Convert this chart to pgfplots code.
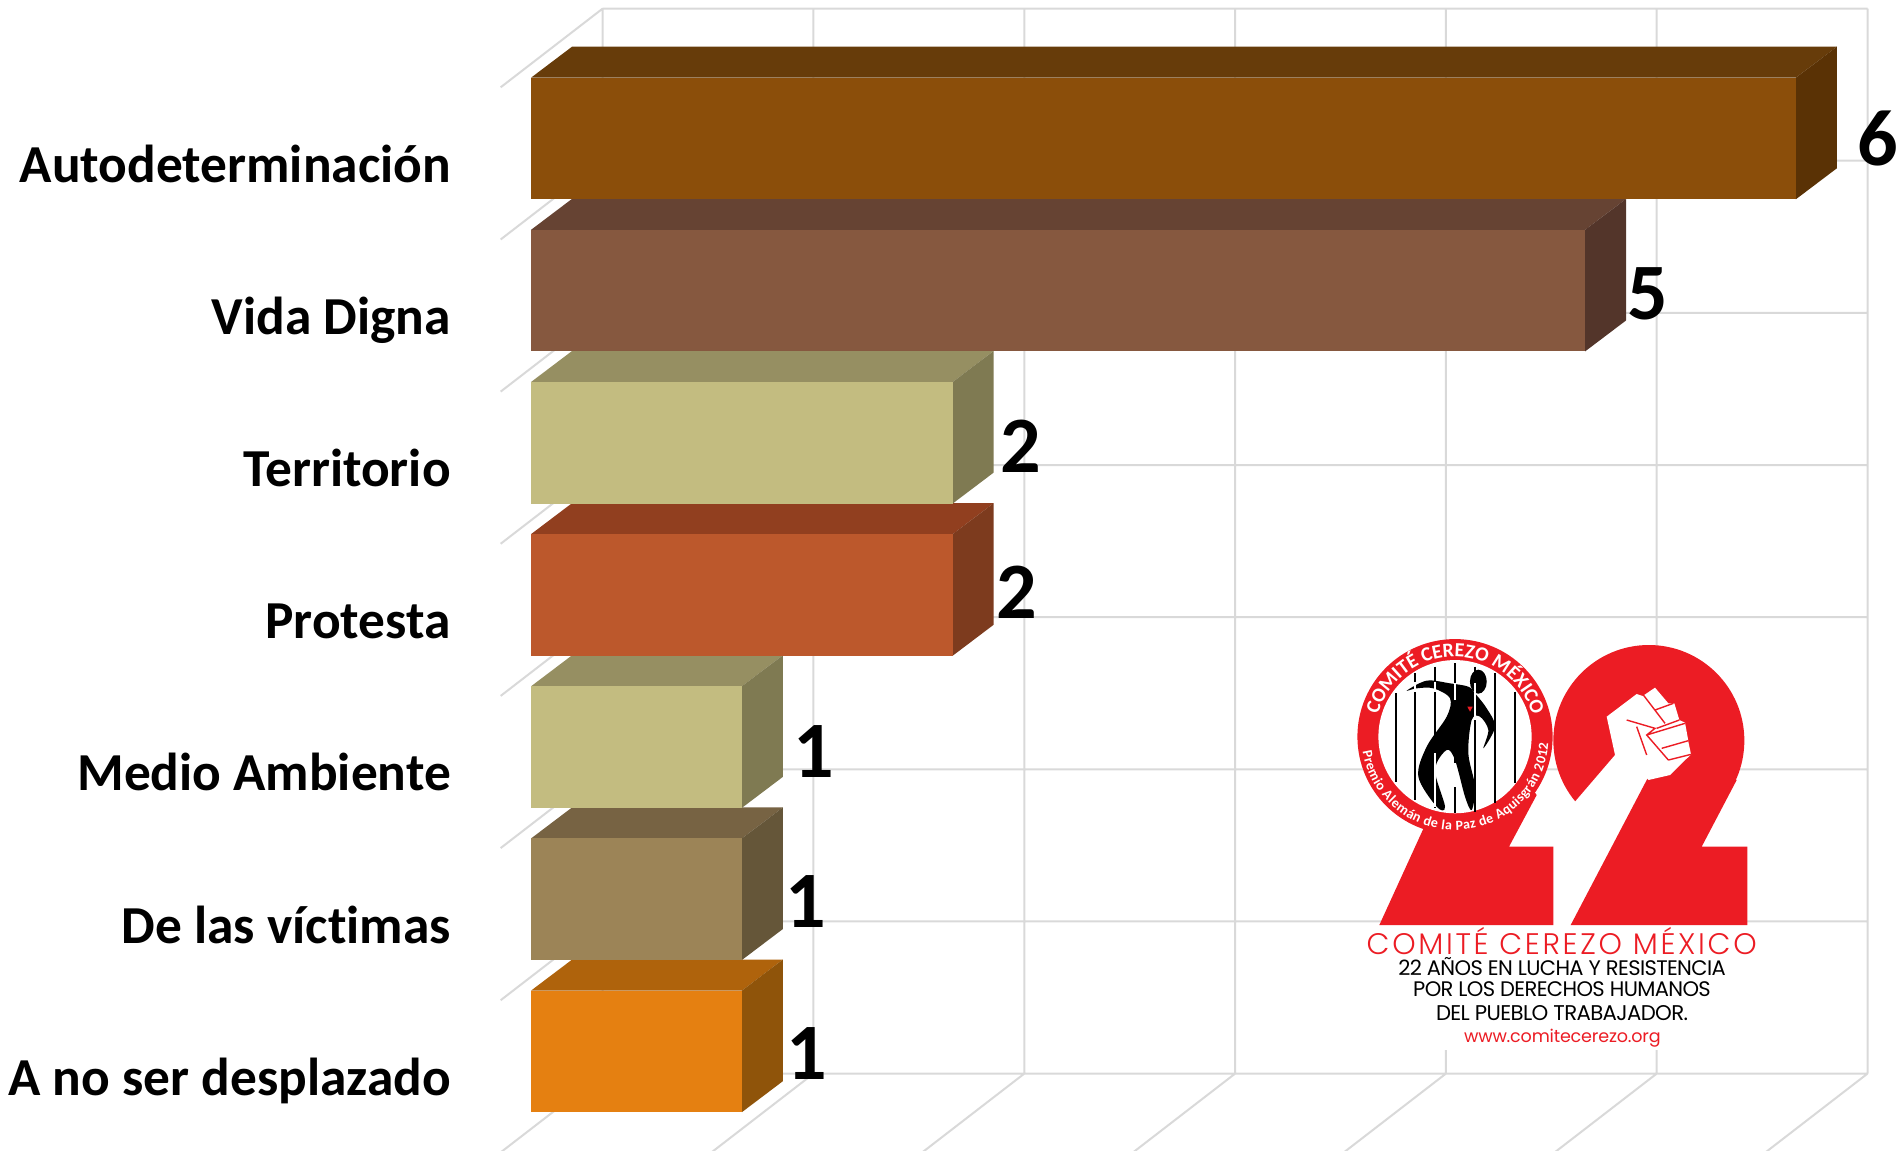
\documentclass[border=0pt]{standalone}
\usepackage{fontspec}
\setmainfont[Ligatures=NoCommon]{Carlito}
\newfontfamily\pop[LetterSpace=-3]{Poppins}
\newfontfamily\popw[LetterSpace=9]{Poppins Light}
\newfontfamily\popu[LetterSpace=-1]{Poppins}
\usepackage{pgfplots}
\pgfplotsset{compat=1.18}
\usetikzlibrary{decorations.text}
\definecolor{gridc}{HTML}{D9D9D9}
\definecolor{logored}{HTML}{EC1C24}
\definecolor{aF}{HTML}{8B4E0A}\definecolor{aT}{HTML}{673C0A}\definecolor{aS}{HTML}{5A3205}
\definecolor{bF}{HTML}{86583F}\definecolor{bT}{HTML}{664333}\definecolor{bS}{HTML}{53352A}
\definecolor{cF}{HTML}{C3BC80}\definecolor{cT}{HTML}{968F62}\definecolor{cS}{HTML}{7F7A52}
\definecolor{dF}{HTML}{BC582C}\definecolor{dT}{HTML}{913F1F}\definecolor{dS}{HTML}{7D3B1E}
\definecolor{eF}{HTML}{9C8457}\definecolor{eT}{HTML}{776343}\definecolor{eS}{HTML}{655639}
\definecolor{fF}{HTML}{E58011}\definecolor{fT}{HTML}{AF630C}\definecolor{fS}{HTML}{8F540A}
\begin{document}
\begin{tikzpicture}
\begin{axis}[
  scale only axis, width=950.5pt, height=575pt,
  xmin=-2.519, xmax=6.499, ymin=-0.9103, ymax=6.648, y dir=reverse,
  axis line style={draw=none}, tick style={draw=none}, major tick length=0pt,
  xtick=\empty, ytick={0,1,2,3,4,5,6},
  yticklabels={Autodeterminación,Vida Digna,Territorio,Protesta,Medio Ambiente,De las víctimas,A no ser desplazado},
  ytick pos=left, tick label style={inner sep=0pt},
  yticklabel style={anchor=base east, xshift=225.6pt, yshift=-21.9pt, font=\fontsize{26.7}{27}\selectfont\bfseries, text=black},
  unbounded coords=jump,
  /pgf/number format/assume math mode=true,
  every node near coord/.append style={font=\fontsize{40}{40}\selectfont\bfseries, text=black, anchor=center, inner sep=0pt},
  nbar/.style={xbar, bar shift=0pt, bar width=60.8pt, draw=none, point meta=x, nodes near coords},
  face/.style={fill=#1, draw=none, mark=none, forget plot},
]
% grid: back wall, side wall, floor
\addplot[gridc, line width=1pt, mark=none, forget plot] coordinates {
 (0.34,-0.854)(6.34,-0.854)(nan,nan)(0.34,0.146)(6.34,0.146)(nan,nan)
 (0.34,1.146)(6.34,1.146)(nan,nan)(0.34,2.146)(6.34,2.146)(nan,nan)
 (0.34,3.146)(6.34,3.146)(nan,nan)(0.34,4.146)(6.34,4.146)(nan,nan)
 (0.34,5.146)(6.34,5.146)(nan,nan)(0.34,6.146)(6.34,6.146)(nan,nan)
 (0.34,-0.854)(0.34,6.146)(nan,nan)(1.34,-0.854)(1.34,6.146)(nan,nan)
 (2.34,-0.854)(2.34,6.146)(nan,nan)(3.34,-0.854)(3.34,6.146)(nan,nan)
 (4.34,-0.854)(4.34,6.146)(nan,nan)(5.34,-0.854)(5.34,6.146)(nan,nan)
 (6.34,-0.854)(6.34,6.146)(nan,nan)
 (0.34,-0.854)(-0.144,-0.3365)(nan,nan)(0.34,0.146)(-0.144,0.6635)(nan,nan)
 (0.34,1.146)(-0.144,1.6635)(nan,nan)(0.34,2.146)(-0.144,2.6635)(nan,nan)
 (0.34,3.146)(-0.144,3.6635)(nan,nan)(0.34,4.146)(-0.144,4.6635)(nan,nan)
 (0.34,5.146)(-0.144,5.6635)(nan,nan)(0.34,6.146)(-0.144,6.6635)(nan,nan)
 (1.34,6.146)(0.856,6.6635)(nan,nan)(2.34,6.146)(1.856,6.6635)(nan,nan)
 (3.34,6.146)(2.856,6.6635)(nan,nan)(4.34,6.146)(3.856,6.6635)(nan,nan)
 (5.34,6.146)(4.856,6.6635)(nan,nan)(6.34,6.146)(5.856,6.6635)
};
% top and side faces
\addplot[face=aT] coordinates {(0,-0.3996)(6,-0.3996)(6.1945,-0.6033)(0.1945,-0.6033)} --cycle;
\addplot[face=aS] coordinates {(6,-0.3996)(6.1945,-0.6033)(6.1945,0.1959)(6,0.3996)} --cycle;
\addplot[face=bT] coordinates {(0,0.6004)(5,0.6004)(5.1945,0.3967)(0.1945,0.3967)} --cycle;
\addplot[face=bS] coordinates {(5,0.6004)(5.1945,0.3967)(5.1945,1.1959)(5,1.3996)} --cycle;
\addplot[face=cT] coordinates {(0,1.6004)(2,1.6004)(2.1945,1.3967)(0.1945,1.3967)} --cycle;
\addplot[face=cS] coordinates {(2,1.6004)(2.1945,1.3967)(2.1945,2.1959)(2,2.3996)} --cycle;
\addplot[face=dT] coordinates {(0,2.6004)(2,2.6004)(2.1945,2.3967)(0.1945,2.3967)} --cycle;
\addplot[face=dS] coordinates {(2,2.6004)(2.1945,2.3967)(2.1945,3.1959)(2,3.3996)} --cycle;
\addplot[face=cT] coordinates {(0,3.6004)(1,3.6004)(1.1945,3.3967)(0.1945,3.3967)} --cycle;
\addplot[face=cS] coordinates {(1,3.6004)(1.1945,3.3967)(1.1945,4.1959)(1,4.3996)} --cycle;
\addplot[face=eT] coordinates {(0,4.6004)(1,4.6004)(1.1945,4.3967)(0.1945,4.3967)} --cycle;
\addplot[face=eS] coordinates {(1,4.6004)(1.1945,4.3967)(1.1945,5.1959)(1,5.3996)} --cycle;
\addplot[face=fT] coordinates {(0,5.6004)(1,5.6004)(1.1945,5.3967)(0.1945,5.3967)} --cycle;
\addplot[face=fS] coordinates {(1,5.6004)(1.1945,5.3967)(1.1945,6.1959)(1,6.3996)} --cycle;
% front faces
\addplot[nbar, fill=aF, nodes near coords style={xshift=41.2pt, yshift=0pt}] coordinates {(6,0)};
\addplot[nbar, fill=bF, nodes near coords style={xshift=31.5pt, yshift=-1.8pt}] coordinates {(5,1)};
\addplot[nbar, fill=cF, nodes near coords style={xshift=33.9pt, yshift=-1.6pt}] coordinates {(2,2)};
\addplot[nbar, fill=dF, nodes near coords style={xshift=31.9pt, yshift=1.2pt}] coordinates {(2,3)};
\addplot[nbar, fill=cF, nodes near coords style={xshift=35.8pt, yshift=-2pt}] coordinates {(1,4)};
\addplot[nbar, fill=eF, nodes near coords style={xshift=32pt, yshift=-1.2pt}] coordinates {(1,5)};
\addplot[nbar, fill=fF, nodes near coords style={xshift=32.4pt, yshift=-1.2pt}] coordinates {(1,6)};
\end{axis}
% logo
\begin{scope}[shift={(670pt,265pt)},x=0.16667pt,y=-0.16667pt]
 \fill[white] (80,915) rectangle (1250,1290);
 % right 2
 \fill[logored] (926.5,361.5) circle[radius=47.75pt];
 \fill[white] (705,545)--(825,405)--(800,290)--(890,222)--(908,228)--(945,203)--(985,250)--(1003,250)--(1018,300)--(1035,308)--(1043,352)--(1045,365)--(1053,403)--(1025,430)--(990,465)--(925,480)--(692,915)--(600,915)--(600,540)--cycle;
 \fill[logored] (692,915)--(1222,915)--(1222,680)--(1085,680)--(1190,480)--(1000,400)--(920,480)--cycle;
 \fill[white] (1000,360)--(1053,403)--(1025,430)--(990,465)--(925,480)--(900,420)--cycle;
 \draw[logored,line width=0.7pt] (910,225)--(975,310) (945,270)--(1000,250) (950,325)--(1018,300) (920,345)--(1035,310) (965,385)--(1045,362) (985,420)--(1053,403) (860,300)--(945,325)--(920,345)--(985,420) (890,320)--(920,405);
 % left 2
 \fill[logored] (118,915)--(640,915)--(640,680)--(507,680)--(590,525)--(500,400)--(262,600)--cycle;
 % badge
 \fill[logored] (345,350) circle[radius=48.8pt];
 \fill[white] (345,350) circle[radius=38.3pt];
 \draw[black,line width=1pt] (167,220)--(167,485) (225,160)--(225,540) (285,140)--(285,565) (345,130)--(345,580) (405,140)--(405,575) (465,160)--(465,550) (525,215)--(525,490);
 \fill[black] plot[smooth cycle,tension=0.55] coordinates {(200,212)(260,182)(330,190)(385,200)(405,220)(440,265)(465,320)(430,385)(445,330)(420,290)(395,300)(385,400)(405,500)(395,570)(375,530)(345,420)(320,390)(285,450)(315,560)(290,560)(235,470)(260,380)(320,290)(330,235)(280,205)(230,205)};
 \fill[black] (415,185) ellipse[x radius=4.2pt,y radius=6pt];
 \draw[white,line width=0.6pt] (225,185)--(225,215) (285,185)--(285,215) (285,400)--(285,560) (345,190)--(345,240) (405,190)--(405,300) (345,430)--(345,500);
 \fill[logored] (382,260)--(398,260)--(390,275)--cycle;
 \coordinate (B) at (345,350);
 % text
 \node[text=logored] at (665,962) {\resizebox{195pt}{!}{\popw COMITÉ CEREZO MÉXICO}};
 \node[text=black] at (666,1040) {\resizebox{163.7pt}{!}{\pop 22 AÑOS EN LUCHA Y RESISTENCIA}};
 \node[text=black] at (666,1108) {\resizebox{148.8pt}{!}{\pop POR LOS DERECHOS HUMANOS}};
 \node[text=black] at (666,1178) {\resizebox{126pt}{!}{\pop DEL PUEBLO TRABAJADOR.}};
 \node[text=logored] at (667,1255) {\resizebox{98.3pt}{!}{\popu www.comitecerezo.org}};
\end{scope}
\path[decorate,decoration={text along path,text align={fit to path},text={|\fontsize{10}{10}\selectfont\bfseries\color{white}|COMITÉ CEREZO MÉXICO}}]
  (B) ++(164:40pt) arc[start angle=164,end angle=16,radius=40pt];
\path[decorate,decoration={text along path,text align={fit to path},text={|\fontsize{7}{7}\selectfont\bfseries\color{white}|Premio Alemán de la Paz de Aquisgrán 2012}}]
  (B) ++(189:46.8pt) arc[start angle=189,end angle=356,radius=46.8pt];
\end{tikzpicture}
\end{document}
